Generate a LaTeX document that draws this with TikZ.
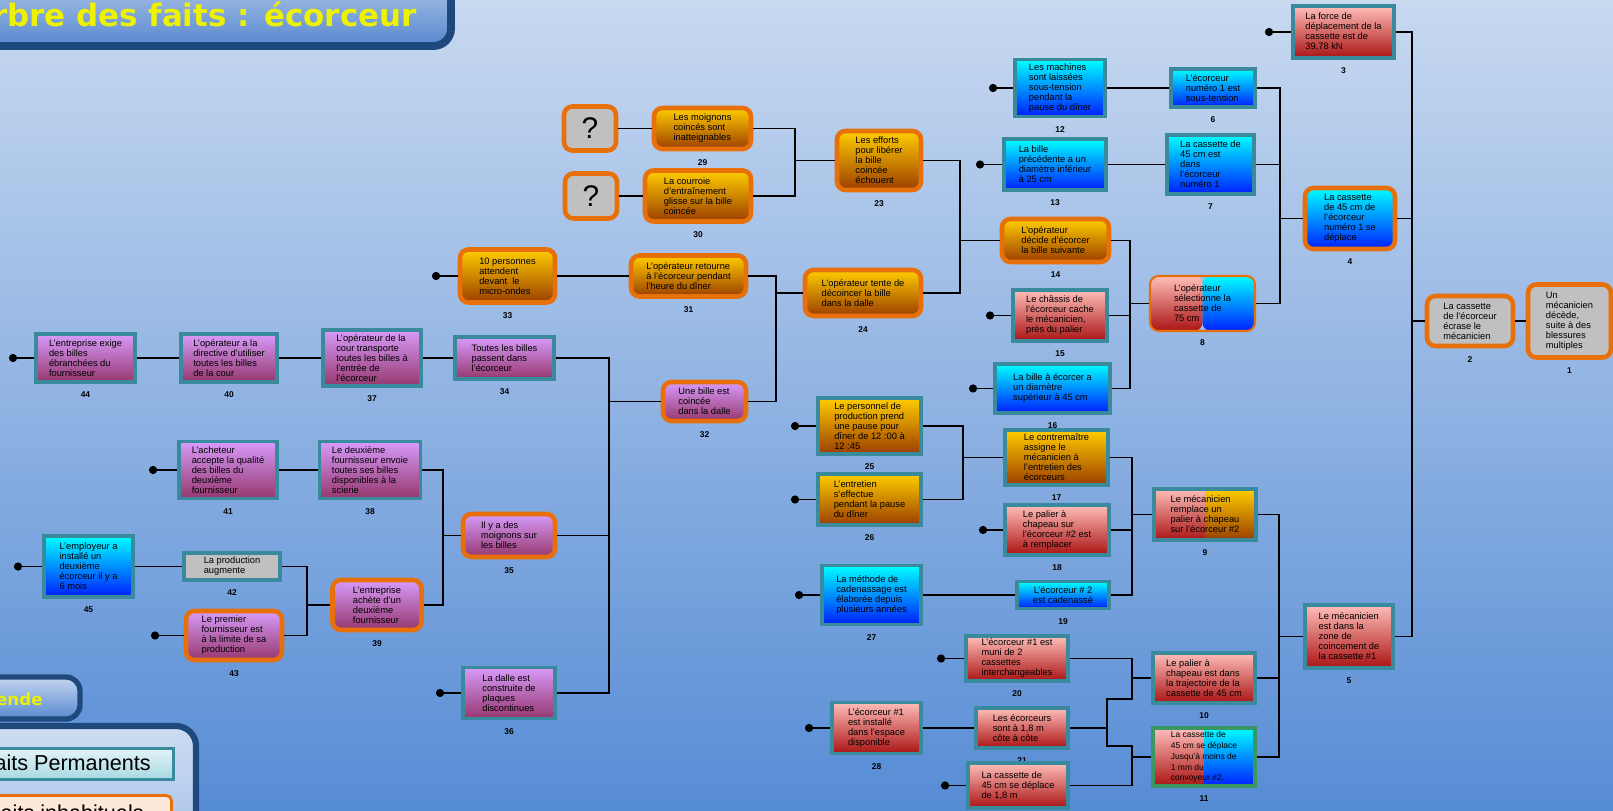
\documentclass[tikz,border=0pt]{standalone}
\usepackage{fontspec}
\setmainfont{Liberation Sans}
\newfontfamily\titrefont{DejaVu Sans}
\usetikzlibrary{arrows.meta}

\definecolor{fondH}{RGB}{200,217,240}
\definecolor{fondB}{RGB}{86,140,213}
\definecolor{titreH}{RGB}{196,214,240}
\definecolor{titreB}{RGB}{88,136,206}
\definecolor{marine}{RGB}{31,73,125}
\definecolor{jauneT}{RGB}{238,242,0}
\definecolor{sarcelle}{RGB}{58,138,158}
\definecolor{orangeB}{RGB}{232,112,10}
\definecolor{vertB}{RGB}{60,150,100}
\definecolor{violH}{RGB}{215,155,250}
\definecolor{violB}{RGB}{150,55,110}
\definecolor{jauneH}{RGB}{255,205,0}
\definecolor{jauneB}{RGB}{155,62,0}
\definecolor{cyanH}{RGB}{0,255,255}
\definecolor{cyanB}{RGB}{0,30,255}
\definecolor{roseH}{RGB}{255,190,185}
\definecolor{roseB}{RGB}{170,20,20}
\definecolor{gris}{RGB}{192,192,192}
\definecolor{permH}{RGB}{226,244,248}
\definecolor{permB}{RGB}{168,216,226}
\definecolor{inhabF}{RGB}{253,232,218}
\definecolor{panH}{RGB}{205,221,242}
\definecolor{panB}{RGB}{150,182,230}

\begin{document}
\begin{tikzpicture}[x=0.02cm,y=-0.02cm,
  fait/.style={draw,inner sep=0pt,align=left,font=\fontsize{5.3}{5.7}\selectfont},
  perm/.style={fait,draw=sarcelle,line width=2.2pt},
  inhab/.style={fait,draw=orangeB,line width=2.6pt,rounded corners=0.17cm},
  wh/.style 2 args={minimum width={(#1-4)*0.02cm},minimum height={(#2-4)*0.02cm}},
  num/.style={label={[font=\fontsize{4.8}{5}\selectfont\bfseries,inner sep=0pt,yshift=-0.15cm]below:#1}},
  fviol/.style={top color=violH,bottom color=violB},
  fjaune/.style={top color=jauneH,bottom color=jauneB},
  fcyan/.style={top color=cyanH,bottom color=cyanB},
  frose/.style={top color=roseH,bottom color=roseB},
  fgris/.style={fill=gris},
  demi/.style 2 args={path picture={
    \shade[top color=#1H,bottom color=#1B] (path picture bounding box.south west) rectangle (path picture bounding box.north);
    \shade[top color=#2H,bottom color=#2B] (path picture bounding box.north) rectangle (path picture bounding box.south east);}},
  lien/.style={line width=1.1pt},
  fin/.style={line width=0.6pt},
  feuille/.style={lien,{Circle[length=4.6pt]}-}]

\useasboundingbox (0,0) rectangle (1613,811);
\clip (0,0) rectangle (1613,811);
\shade[top color=fondH,bottom color=fondB] (0,0) rectangle (1613,811);

% titre
\draw[marine,line width=4.5pt,rounded corners=0.35cm,top color=titreH,bottom color=titreB] (-40,-40) rectangle (451,46);
\node[anchor=base east,inner sep=0pt,text=jauneT,font=\titrefont\bfseries\fontsize{17.6}{17.6}\selectfont] (titre) at (417,27) {Arbre des faits : écorceur};

% legende
\draw[marine,line width=3pt,rounded corners=0.28cm,top color=titreH,bottom color=titreB] (-40,677) rectangle (80,719);
\node[anchor=base east,inner sep=0pt,text=jauneT,font=\titrefont\bfseries\fontsize{9.5}{9.5}\selectfont] (legende) at (43,705) {Légende};
\draw[marine,line width=3.5pt,rounded corners=0.4cm,top color=panH,bottom color=panB] (-40,726) rectangle (196,900);
\draw[sarcelle,line width=1.6pt,top color=permH,bottom color=permB] (-20,748.5) rectangle (173.5,779.5);
\node[anchor=base east,inner sep=0pt,font=\fontsize{12.3}{12.3}\selectfont] (lgperm) at (151,770) {Faits Permanents};
\draw[orangeB,line width=1.6pt,rounded corners=0.1cm,fill=inhabF] (-20,795.5) rectangle (171.5,840);
\node[anchor=base east,inner sep=0pt,font=\fontsize{12.3}{12.3}\selectfont] (lginhab) at (144,820) {Faits inhabituels};

% faits -- gauche
\node[perm,fviol,wh={103}{52},num=44] (n44) at (85.5,358) {L'entreprise exige\\des billes\\ébranchées du\\fournisseur};
\node[perm,fviol,wh={100}{52},num=40] (n40) at (229,358) {L'opérateur a la\\directive d'utiliser\\toutes les billes\\de la cour};
\node[perm,fviol,wh={102}{60},num=37] (n37) at (372,358) {L'opérateur de la\\cour transporte\\toutes les billes à\\l'entrée de\\l'écorceur};
\node[perm,fviol,wh={103}{46},num=34] (n34) at (504.5,358) {Toutes les billes\\passent dans\\l'écorceur};
\node[perm,fviol,wh={102}{61},num=41] (n41) at (228,470) {L'acheteur\\accepte la qualité\\des billes du\\deuxième\\fournisseur};
\node[perm,fviol,wh={105}{61},num=38] (n38) at (370,470) {Le deuxième\\fournisseur envoie\\toutes ses billes\\disponibles à la\\scierie};
\node[inhab,fviol,wh={96}{47},num=35] (n35) at (509,535.5) {Il y a des\\moignons sur\\les billes};
\node[perm,fcyan,wh={93}{65},num=45] (n45) at (88.5,566.5) {L'employeur a\\installé un\\deuxième\\écorceur il y a\\6 mois};
\node[perm,fgris,wh={100}{31},num=42] (n42) at (232,566.5) {La production\\augmente};
\node[inhab,fviol,wh={93}{54},num=39] (n39) at (377,605) {L'entreprise\\achète d'un\\deuxième\\fournisseur};
\node[inhab,fviol,wh={100}{53},num=43] (n43) at (234,635.5) {Le premier\\fournisseur est\\à la limite de sa\\production};
\node[perm,fviol,wh={96}{55},num=36] (n36) at (509,693) {La dalle est\\construite de\\plaques\\discontinues};

% faits -- centre
\node[inhab,fjaune,wh={99}{57},num=33] (n33) at (507.5,276) {10 personnes\\attendent\\devant\ \ le\\micro-ondes};
\node[inhab,fjaune,wh={119}{45},num=31] (n31) at (688.5,276) {L'opérateur retourne\\à l'écorceur pendant\\l'heure du dîner};
\node[inhab,fviol,wh={87}{43},num=32] (n32) at (704.5,401.5) {Une bille est\\coincée\\dans la dalle};
\node[inhab,fgris,wh={56}{48},font=\fontsize{17}{17}\selectfont] (q1) at (590,128.5) {?};
\node[inhab,fgris,wh={56}{49},font=\fontsize{17}{17}\selectfont] (q2) at (591,196) {?};
\node[inhab,fjaune,wh={101}{45},num=29] (n29) at (702.5,128.5) {Les moignons\\coincés sont\\inatteignables};
\node[inhab,fjaune,wh={110}{55},num=30] (n30) at (698,196) {La courroie\\d'entraînement\\glisse sur la bille\\coincée};
\node[inhab,fjaune,wh={88}{63},num=23] (n23) at (879,160.5) {Les efforts\\pour libérer\\la bille\\coincée\\échouent};
\node[inhab,fjaune,wh={120}{50},num=24] (n24) at (863,293) {L'opérateur tente de\\décoincer la bille\\dans la dalle};

% faits -- droite haut
\node[perm,fcyan,wh={94}{61},num=12] (n12) at (1060,88) {Les machines\\sont laissées\\sous-tension\\pendant la\\pause du dîner};
\node[perm,fcyan,wh={88}{42},num=6] (n6) at (1213,88) {L'écorceur\\numéro 1 est\\sous-tension};
\node[perm,fcyan,wh={106}{55},num=13] (n13) at (1055,164.5) {La bille\\précédente a un\\diamètre inférieur\\à 25 cm};
\node[perm,fcyan,wh={91}{63},num=7] (n7) at (1210.5,164.5) {La cassette de\\45 cm est\\dans\\l'écorceur\\numéro 1};
\node[inhab,fjaune,wh={111}{47},num=14] (n14) at (1055.5,240.5) {L'opérateur\\décide d'écorcer\\la bille suivante};
\node[perm,frose,wh={98}{55},num=15] (n15) at (1060,315.5) {Le châssis de\\l'écorceur cache\\le mécanicien,\\près du palier};
\node[fait,draw=orangeB,line width=1.2pt,rounded corners=0.17cm,demi={rose}{cyan},wh={109}{59},num=8] (n8) at (1202.5,303.5) {L'opérateur\\sélectionne la\\cassette de\\75 cm};
\node[perm,fcyan,wh={119}{53},num=16] (n16) at (1052.5,388.5) {La bille à écorcer a\\un diamètre\\supérieur à 45 cm};
\node[perm,frose,wh={105}{56},num=3] (n3) at (1343.5,32) {La force de\\déplacement de la\\cassette est de\\39,78 kN};
\node[inhab,fcyan,wh={94}{65},num=4] (n4) at (1350,218.5) {La cassette\\de 45 cm de\\l'écorceur\\numéro 1 se\\déplace};
\node[inhab,fgris,wh={90}{54},num=2] (n2) at (1470,321) {La cassette\\de l'écorceur\\écrase le\\mécanicien};
\node[inhab,fgris,wh={87}{77},num=1] (n1) at (1569.5,321) {Un\\mécanicien\\décède,\\suite à des\\blessures\\multiples};

% faits -- droite bas
\node[perm,fjaune,wh={107}{60},num=25] (n25) at (869.5,426) {Le personnel de\\production prend\\une pause pour\\dîner de 12 :00 à\\12 :45};
\node[perm,fjaune,wh={107}{55},num=26] (n26) at (869.5,499.5) {L'entretien\\s'effectue\\pendant la pause\\du dîner};
\node[perm,fjaune,wh={107}{59},num=17] (n17) at (1056.5,457.5) {Le contremaître\\assigne le\\mécanicien à\\l'entretien des\\écorceurs};
\node[perm,frose,wh={108}{54},num=18] (n18) at (1057,530) {Le palier à\\chapeau sur\\l'écorceur \#2 est\\à remplacer};
\node[perm,demi={rose}{jaune},wh={106}{55},num=9] (n9) at (1205,514.5) {Le mécanicien\\remplace un\\palier à chapeau\\sur l'écorceur \#2};
\node[perm,fcyan,wh={103}{63},num=27] (n27) at (871.5,595) {La méthode de\\cadenassage est\\élaborée depuis\\plusieurs années};
\node[perm,fcyan,wh={96}{31},num=19,align=center] (n19) at (1063,595) {L'écorceur \# 2\\est cadenassé};
\node[perm,frose,wh={106}{49},num=20] (n20) at (1017,658.5) {L'écorceur \#1 est\\muni de 2\\cassettes\\interchangeables};
\node[perm,frose,wh={106}{54},num=10] (n10) at (1204,678) {Le palier à\\chapeau est dans\\la trajectoire de la\\cassette de 45 cm};
\node[perm,frose,wh={92}{67},num=5] (n5) at (1349,636.5) {Le mécanicien\\est dans la\\zone de\\coincement de\\la cassette \#1};
\node[perm,frose,wh={93}{55},num=28] (n28) at (876.5,728) {L'écorceur \#1\\est installé\\dans l'espace\\disponible};
\node[perm,frose,wh={96}{44},num=21] (n21) at (1022,728) {Les écorceurs\\sont à 1,8 m\\côte à côte};
\node[perm,draw=vertB,demi={rose}{cyan},wh={106}{62},num=11,font=\fontsize{4.8}{6.2}\selectfont] (n11) at (1204,757) {La cassette de\\45 cm se déplace\\Jusqu'à moins de\\1 mm du\\convoyeur \#2.};
\node[perm,frose,wh={104}{49},num=22] (n22) at (1018,785.5) {La cassette de\\45 cm se déplace\\de 1,8 m};

% jonctions
\coordinate (j23) at (795,160.5);
\coordinate (j24) at (776,293);
\coordinate (j14) at (960,240.5);
\coordinate (j8) at (1130,303.5);
\coordinate (j4) at (1280,218.5);
\coordinate (j2) at (1412,321);
\coordinate (j5) at (1279,636.5);
\coordinate (j9) at (1132,514.5);
\coordinate (j17) at (963,457.5);
\coordinate (j10) at (1132,678);
\coordinate (j10b) at (1132,699);
\coordinate (j11) at (1132,757);
\coordinate (j11a) at (1132,746);
\coordinate (k21) at (1107,728);
\coordinate (j32) at (609,401.5);
\coordinate (j35) at (443,535.5);
\coordinate (j39) at (307,605);

% extremites libres
\coordinate (d44) at (9,358);
\coordinate (d41) at (149,470);
\coordinate (d45) at (14,566.5);
\coordinate (d43) at (151,635.5);
\coordinate (d36) at (436,693);
\coordinate (d33) at (432,276);
\coordinate (d12) at (989,88);
\coordinate (d13) at (976,164.5);
\coordinate (d15) at (986,315.5);
\coordinate (d16) at (969,388.5);
\coordinate (d3) at (1265,32);
\coordinate (d25) at (791,426);
\coordinate (d26) at (791,499.5);
\coordinate (d18) at (979,530);
\coordinate (d27) at (795,595);
\coordinate (d20) at (937,658.5);
\coordinate (d28) at (805,728);
\coordinate (d22) at (941,785.5);

\foreach \f in {44,41,45,43,36,33,12,13,15,16,3,25,26,18,27,20,28,22}
  \draw[feuille] (d\f) -- (n\f.west);

% liens
\draw[lien] (n44) -- (n40);
\draw[lien] (n40) -- (n37);
\draw[lien] (n37) -- (n34);
\draw[lien] (n41) -- (n38);
\draw[lien] (n45) -- (n42);
\draw[lien] (n42.east) -| (j39) -- (n39.west);
\draw[lien] (n43.east) -| (j39);
\draw[lien] (n38.east) -| (j35) -- (n35.west);
\draw[lien] (n39.east) -| (j35);
\draw[lien] (n34.east) -| (j32) -- (n32.west);
\draw[lien] (n35.east) -| (j32);
\draw[lien] (n36.east) -| (j32);
\draw[fin] (n33) -- (n31);
\draw[fin] (q1) -- (n29);
\draw[fin] (q2) -- (n30);
\draw[lien] (n29.east) -| (j23) -- (n23.west);
\draw[lien] (n30.east) -| (j23);
\draw[lien] (n31.east) -| (j24) -- (n24.west);
\draw[lien] (n32.east) -| (j24);
\draw[lien] (n23.east) -| (j14) -- (n14.west);
\draw[lien] (n24.east) -| (j14);
\draw[lien] (n14.east) -| (j8) -- (n8.west);
\draw[lien] (n15.east) -| (j8);
\draw[lien] (n16.east) -| (j8);
\draw[fin] (n12) -- (n6);
\draw[lien] (n13) -- (n7);
\draw[lien] (n6.east) -| (j4) -- (n4.west);
\draw[lien] (n7.east) -| (j4);
\draw[lien] (n8.east) -| (j4);
\draw[lien] (n3.east) -| (j2) -- (n2.west);
\draw[lien] (n4.east) -| (j2);
\draw[lien] (n5.east) -| (j2);
\draw[lien] (n2) -- (n1);
\draw[lien] (n25.east) -| (j17) -- (n17.west);
\draw[lien] (n26.east) -| (j17);
\draw[lien] (n27) -- (n19);
\draw[lien] (n17.east) -| (j9) -- (n9.west);
\draw[lien] (n18.east) -| (j9);
\draw[lien] (n19.east) -| (j9);
\draw[lien] (n28) -- (n21);
\draw[lien] (n20.east) -| (j10) -- (n10.west);
\draw[lien] (n21.east) -- (k21) |- (j10b) -- (j10);
\draw[lien] (k21) |- (j11a) -- (j11);
\draw[lien] (n22.east) -| (j11) -- (n11.west);
\draw[lien] (n9.east) -| (j5) -- (n5.west);
\draw[lien] (n10.east) -| (j5);
\draw[lien] (n11.east) -| (j5);
\end{tikzpicture}
\end{document}
